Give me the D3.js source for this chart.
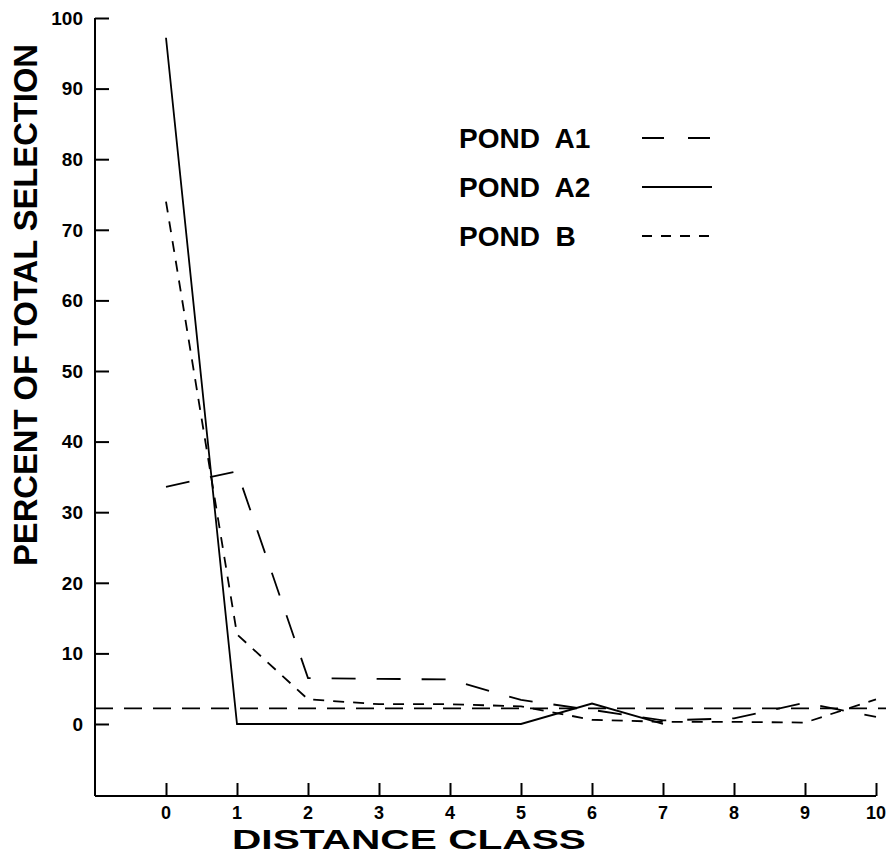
<!DOCTYPE html>
<html>
<head>
<meta charset="utf-8">
<script src="https://cdn.jsdelivr.net/npm/d3@7"></script>
<style>
  body { margin: 0; background: #fff; }
  text { font-family: "Liberation Sans", Arial, sans-serif; font-weight: bold; fill: #000; }
</style>
</head>
<body>
<script>
// distance classes and percent of total selection
const distanceClasses = [0, 1, 2, 3, 4, 5, 6, 7, 8, 9, 10];
const pondA1 = [33.6, 35.8, 6.5, 6.4, 6.3, 3.4, 2.0, 0.5, 0.8, 3.0, 1.0];
const pondA2 = [97.2, 0, 0, 0, 0, 0, 2.9, 0];
const pondB = [74.0, 12.7, 3.5, 2.8, 2.8, 2.5, 0.6, 0.3, 0.3, 0.2, 3.5];
const expectedLevel = 2.2;
const yTicks = [0, 10, 20, 30, 40, 50, 60, 70, 80, 90, 100];
const seriesNames = ["POND  A1", "POND  A2", "POND  B"];

const baseWidth = 886,
  baseHeight = 856;

const dashes = ["24,21", null, "11,9"];

const x = d3.scaleLinear().domain([-1, 10]).range([95, 876]);
const y = d3.scaleLinear().domain([-10.2, 100]).range([796, 18]);

const svg = d3
  .select("body")
  .append("svg")
  .attr("width", baseWidth)
  .attr("height", baseHeight);

// y axis, ticks pointing inward
const yAxis = d3
  .axisRight(y)
  .tickValues(yTicks)
  .tickSize(14)
  .tickFormat("");
const gy = svg.append("g").attr("transform", "translate(" + x(-1) + ",0)").call(yAxis);
gy.select(".domain").attr("d", "M0," + y(100) + "V" + y(-10.2));

svg
  .selectAll(".ylab")
  .data(yTicks)
  .enter()
  .append("text")
  .attr("class", "ylab")
  .attr("x", 83)
  .attr("y", (d) => y(d))
  .attr("dy", "0.36em")
  .attr("text-anchor", "end")
  .style("font-size", "19px")
  .text((d) => d);

// x axis, ticks pointing up
const xAxis = d3
  .axisTop(x)
  .tickValues(distanceClasses)
  .tickSize(13)
  .tickFormat("");
const gx = svg.append("g").attr("transform", "translate(0," + y(-10.2) + ")").call(xAxis);
gx.select(".domain").attr("d", "M" + x(-1) + ",0H" + x(10));

svg
  .selectAll(".xlab")
  .data(distanceClasses)
  .enter()
  .append("text")
  .attr("class", "xlab")
  .attr("x", (d) => x(d))
  .attr("y", 813)
  .attr("dy", "0.36em")
  .attr("text-anchor", "middle")
  .style("font-size", "18px")
  .text((d) => d);

svg.selectAll(".domain, .tick line").attr("stroke", "#000").attr("stroke-width", 2);

// axis titles
svg
  .append("text")
  .attr("x", 232)
  .attr("y", 849)
  .attr("textLength", 354)
  .attr("lengthAdjust", "spacingAndGlyphs")
  .style("font-size", "28px")
  .text("DISTANCE CLASS");

svg
  .append("text")
  .attr("transform", "translate(37,566) rotate(-90)")
  .attr("textLength", 522)
  .attr("lengthAdjust", "spacingAndGlyphs")
  .style("font-size", "33px")
  .text("PERCENT OF TOTAL SELECTION");

// horizontal reference level
svg
  .append("line")
  .attr("x1", x(-1))
  .attr("x2", baseWidth)
  .attr("y1", y(expectedLevel))
  .attr("y2", y(expectedLevel))
  .attr("stroke", "#000")
  .attr("stroke-width", 1.8)
  .attr("stroke-dasharray", "18,11");

// series lines
const line = d3
  .line()
  .x((d, i) => x(distanceClasses[i]))
  .y((d) => y(d));

[pondA1, pondA2, pondB].forEach((values, i) => {
  svg
    .append("path")
    .datum(values)
    .attr("d", line)
    .attr("fill", "none")
    .attr("stroke", "#000")
    .attr("stroke-width", 1.8)
    .attr("stroke-dasharray", dashes[i]);
});

// legend
const legend = svg
  .selectAll(".legend")
  .data(seriesNames)
  .enter()
  .append("g")
  .attr("class", "legend")
  .attr("transform", (d, i) => "translate(0," + (138 + i * 49) + ")");

legend
  .append("text")
  .attr("x", 459)
  .attr("dy", "0.36em")
  .style("font-size", "28px")
  .style("white-space", "pre")
  .attr("xml:space", "preserve")
  .text((d) => d);

legend
  .append("line")
  .attr("x1", 642)
  .attr("x2", 712)
  .attr("stroke", "#000")
  .attr("stroke-width", 1.8)
  .attr("stroke-dasharray", (d, i) => (i === 0 ? "22,24" : i === 2 ? "10,9" : null));
</script>
</body>
</html>
